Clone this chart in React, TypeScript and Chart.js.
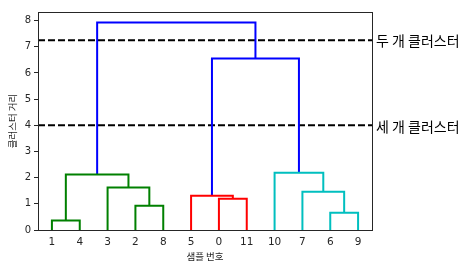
import React, { useEffect, useRef } from "react";
import { Chart, registerables } from "chart.js";

Chart.register(...registerables);

// Leaf order along the x axis (sample numbers)
const leafOrder = [1, 4, 3, 2, 8, 5, 0, 11, 10, 7, 6, 9];

// Merge steps: [child A, child B, distance]. Ids 0-11 are samples,
// id 12 + k is the cluster created by merge k.
const mergeLeft = [1, 2, 3, 12, 0, 5, 6, 7, 10, 17, 15];
const mergeRight = [4, 8, 13, 14, 11, 16, 9, 18, 19, 20, 21];
const mergeHeight = [0.36, 0.93, 1.62, 2.12, 1.19, 1.31, 0.66, 1.46, 2.19, 6.55, 7.93];
const mergeColor = [
  "#008000", "#008000", "#008000", "#008000",
  "#ff0000", "#ff0000",
  "#00bfbf", "#00bfbf", "#00bfbf",
  "#0000ff", "#0000ff",
];

// Cut lines and their labels
const cutHeights = [7.25, 4];
const cutLabels = ["두 개 클러스터", "세 개 클러스터"];

const yTicks = [0, 1, 2, 3, 4, 5, 6, 7, 8];
const xLabel = "샘플 번호";
const yLabel = "클러스터 거리";

const LEAF_SPACING = 10;
const xMax = leafOrder.length * LEAF_SPACING;
const yMax = Math.max(...mergeHeight) * 1.05;

function buildLinks() {
  const posX = new Map<number, number>();
  const posY = new Map<number, number>();
  leafOrder.forEach((leaf, i) => {
    posX.set(leaf, LEAF_SPACING / 2 + i * LEAF_SPACING);
    posY.set(leaf, 0);
  });
  const n = leafOrder.length;
  return mergeHeight.map((h, k) => {
    const a = mergeLeft[k];
    const b = mergeRight[k];
    const xa = posX.get(a)!;
    const xb = posX.get(b)!;
    const [xl, xr, yl, yr] =
      xa <= xb ? [xa, xb, posY.get(a)!, posY.get(b)!] : [xb, xa, posY.get(b)!, posY.get(a)!];
    posX.set(n + k, (xl + xr) / 2);
    posY.set(n + k, h);
    return {
      data: [
        { x: xl, y: yl },
        { x: xl, y: h },
        { x: xr, y: h },
        { x: xr, y: yr },
      ],
      color: mergeColor[k],
    };
  });
}

const framePlugin = {
  id: "frameAndCutLabels",
  afterDraw(chart: any) {
    const { ctx, chartArea } = chart;
    const y = chart.scales.y;
    ctx.save();
    ctx.strokeStyle = "#262626";
    ctx.lineWidth = 1;
    ctx.strokeRect(
      Math.round(chartArea.left) + 0.5,
      Math.round(chartArea.top) + 0.5,
      Math.round(chartArea.right - chartArea.left),
      Math.round(chartArea.bottom - chartArea.top)
    );
    ctx.fillStyle = "#000";
    ctx.font = '14px "Noto Sans CJK KR", "Noto Sans", sans-serif';
    ctx.textAlign = "left";
    ctx.textBaseline = "middle";
    cutHeights.forEach((h, i) => {
      ctx.fillText(cutLabels[i], chartArea.right + 4, y.getPixelForValue(h) + 1);
    });
    ctx.restore();
  },
};

export default function App() {
  const canvasRef = useRef<HTMLCanvasElement>(null);

  useEffect(() => {
    const links = buildLinks();
    const datasets: any[] = links.map((l) => ({
      data: l.data,
      borderColor: l.color,
      borderWidth: 2,
      pointRadius: 0,
      tension: 0,
      fill: false,
    }));
    cutHeights.forEach((h) => {
      datasets.push({
        data: [
          { x: 0, y: h },
          { x: xMax, y: h },
        ],
        borderColor: "#000",
        borderWidth: 2,
        borderDash: [7, 3],
        pointRadius: 0,
        fill: false,
      });
    });

    const chart = new Chart(canvasRef.current!, {
      type: "line",
      data: { datasets },
      plugins: [framePlugin],
      options: {
        animation: false,
        responsive: true,
        maintainAspectRatio: false,
        layout: { padding: { left: 0, top: 12, right: 103, bottom: 0 } },
        plugins: { legend: { display: false }, tooltip: { enabled: false } },
        scales: {
          x: {
            type: "linear",
            min: 0,
            max: xMax,
            afterFit(scale: any) {
              scale.height = 39;
            },
            afterBuildTicks(scale: any) {
              scale.ticks = leafOrder.map((_, i) => ({ value: LEAF_SPACING / 2 + i * LEAF_SPACING }));
            },
            grid: { display: false, drawTicks: false },
            border: { display: true, color: "#262626", width: 1 },
            ticks: {
              padding: 6,
              color: "#262626",
              font: { family: '"DejaVu Sans", sans-serif', size: 10.5 },
              autoSkip: false,
              maxRotation: 0,
              callback: (v: any) => {
                const i = Math.round((Number(v) - LEAF_SPACING / 2) / LEAF_SPACING);
                return String(leafOrder[i]);
              },
            },
            title: {
              display: true,
              text: xLabel,
              color: "#262626",
              font: { family: '"Noto Sans CJK KR", sans-serif', size: 9.5 },
              padding: { top: 0, bottom: 7 },
            },
          },
          y: {
            type: "linear",
            min: 0,
            max: yMax,
            afterFit(scale: any) {
              scale.width = 38;
            },
            afterBuildTicks(scale: any) {
              scale.ticks = yTicks.map((v) => ({ value: v }));
            },
            grid: {
              drawOnChartArea: false,
              drawTicks: true,
              tickLength: 4,
              color: "#262626",
            },
            border: { display: true, color: "#262626", width: 1 },
            ticks: {
              padding: 3,
              color: "#262626",
              font: { family: '"DejaVu Sans", sans-serif', size: 10 },
            },
            title: {
              display: true,
              text: yLabel,
              color: "#262626",
              font: { family: '"Noto Sans CJK KR", sans-serif', size: 9.5 },
              padding: { top: 7, bottom: 0 },
            },
          },
        },
      },
    });
    return () => chart.destroy();
  }, []);

  return (
    <div style={{ position: "fixed", left: 0, top: 0, width: 475, height: 269, background: "#fff" }}>
      <canvas ref={canvasRef} />
    </div>
  );
}
